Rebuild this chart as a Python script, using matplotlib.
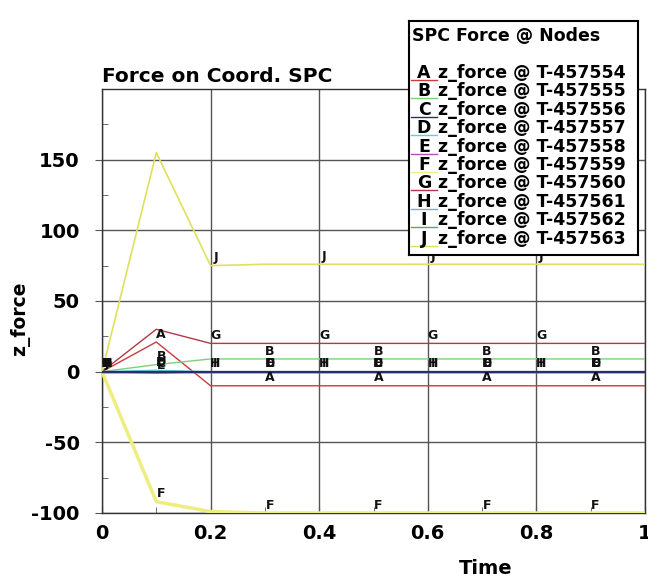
import numpy as np
import matplotlib
matplotlib.use("Agg")
import matplotlib.pyplot as plt
from matplotlib.lines import Line2D
from matplotlib.ticker import MultipleLocator

plt.rcParams['axes.unicode_minus'] = False

# data
time = [0.0, 0.1, 0.2, 0.3, 0.4, 0.5, 0.6, 0.7, 0.8, 0.9, 1.0]
series = ['A', 'B', 'C', 'D', 'E', 'F', 'G', 'H', 'I', 'J']
nodes = ['T-457554', 'T-457555', 'T-457556', 'T-457557', 'T-457558',
         'T-457559', 'T-457560', 'T-457561', 'T-457562', 'T-457563']
force_A = [0, 21, -10, -10, -10, -10, -10, -10, -10, -10, -10]
force_B = [0, 5, 9, 9, 9, 9, 9, 9, 9, 9, 9]
force_C = [0, 0, 0, 0, 0, 0, 0, 0, 0, 0, 0]
force_D = [0, 1, 0, 0, 0, 0, 0, 0, 0, 0, 0]
force_E = [0, -1, 0, 0, 0, 0, 0, 0, 0, 0, 0]
force_F = [0, -92, -99, -100, -100, -100, -100, -100, -100, -100, -100]
force_G = [0, 30, 20, 20, 20, 20, 20, 20, 20, 20, 20]
force_H = [0, 0, 0, 0, 0, 0, 0, 0, 0, 0, 0]
force_I = [0, 0, 0, 0, 0, 0, 0, 0, 0, 0, 0]
force_J = [0, 155, 75, 76, 76, 76, 76, 76, 76, 76, 76]
forces = [force_A, force_B, force_C, force_D, force_E,
          force_F, force_G, force_H, force_I, force_J]
colors = ['#c83c3c', '#7ad27a', '#2c2c70', '#5ccfd8', '#b050b8',
          '#eeee80', '#b03848', '#8aa8c8', '#5aaa5a', '#e0e060']
widths = [1, 1, 1.6, 1, 1, 2.5, 1, 1, 1, 1.2]
zord = [3, 3, 4.5, 3, 4, 3, 3, 3, 3, 3]

fig = plt.figure(figsize=(6.48, 5.79), dpi=100)
ax = fig.add_axes([102 / 648, 1 - 513 / 579, 543 / 648, 424 / 579])

grid_c = '#555555'
for i, (name, f) in enumerate(zip(series, forces)):
    ax.plot(time, f, color=colors[i], lw=widths[i], zorder=zord[i])

# letter markers along the curves
for i, (name, f) in enumerate(zip(series, forces)):
    idx = [0] + ([1, 3, 5, 7, 9] if i < 6 else [2, 4, 6, 8])
    for k in idx:
        ax.annotate(name, (time[k], f[k]), xytext=(3.5, 1),
                    textcoords='offset points', ha='center', va='bottom',
                    fontsize=9, fontweight='bold', color='#111111',
                    zorder=5)

ax.set_xlim(0, 1)
ax.set_ylim(-100, 200)
ax.set_xticks([0, 0.2, 0.4, 0.6, 0.8, 1.0])
ax.set_xticklabels(['0', '0.2', '0.4', '0.6', '0.8', '1'])
ax.set_yticks([-100, -50, 0, 50, 100, 150])
ax.xaxis.set_minor_locator(MultipleLocator(0.1))
ax.yaxis.set_minor_locator(MultipleLocator(25))
ax.grid(True, which='major', color=grid_c, lw=1, zorder=1)
ax.tick_params(axis='y', which='major', direction='out', length=5,
               color=grid_c, labelsize=14, pad=11)
ax.tick_params(axis='x', which='major', direction='in', length=5,
               color=grid_c, labelsize=14, pad=8)
ax.tick_params(which='minor', direction='in', length=4, color=grid_c)
for lab in ax.get_xticklabels() + ax.get_yticklabels():
    lab.set_fontweight('bold')
for sp in ax.spines.values():
    sp.set_color('#333333')
    sp.set_linewidth(1)

ax.set_title('Force on Coord. SPC', loc='left', fontsize=14.5,
             fontweight='bold', pad=5)
fig.text(486 / 648, 1 - 568 / 579, 'Time', ha='center', va='center',
         fontsize=14, fontweight='bold')
fig.text(20 / 648, 1 - 319 / 579, 'z_force', ha='center', va='center',
         rotation=90, fontsize=13.5, fontweight='bold')

# legend box
lg = fig.add_axes([409 / 648, 1 - 255 / 579, 229 / 648, 234 / 579], zorder=10)
lg.set_xlim(409, 638)
lg.set_ylim(255, 21)
lg.set_xticks([])
lg.set_yticks([])
for sp in lg.spines.values():
    sp.set_color('black')
    sp.set_linewidth(1.5)
lg.text(412, 36, 'SPC Force @ Nodes', ha='left', va='center',
        fontsize=12.5, fontweight='bold')
for i, name in enumerate(series):
    y = 73 + i * 18.4
    lg.add_line(Line2D([411, 437], [y + 7, y + 7], color=colors[i], lw=1))
    lg.text(424, y, name, ha='center', va='center', fontsize=12.5,
            fontweight='bold')
    lg.text(438, y, 'z_force @ ' + nodes[i], ha='left', va='center',
            fontsize=12.5, fontweight='bold')

fig.savefig('out.png', dpi=100)
